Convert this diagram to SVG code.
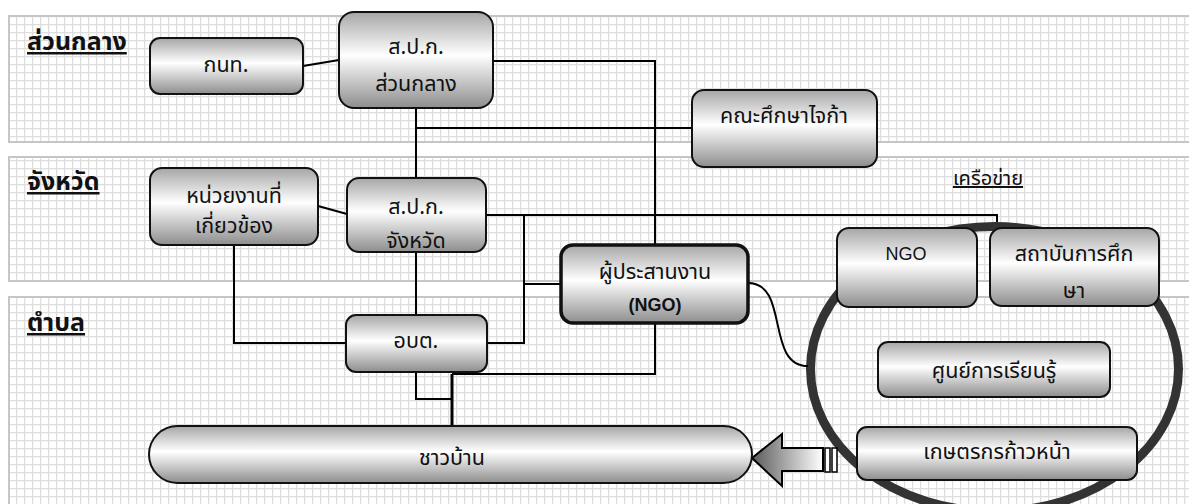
<svg xmlns="http://www.w3.org/2000/svg" width="1189" height="504" viewBox="0 0 1189 504">
<defs>
<pattern id="grid" width="8" height="8" patternUnits="userSpaceOnUse">
<rect width="8" height="8" fill="#ffffff"/>
<path d="M0 0.5H8M0.5 0V8" stroke="#dedede" stroke-width="1.6" fill="none"/>
</pattern>
<linearGradient id="box" x1="0" y1="0" x2="0" y2="1">
<stop offset="0" stop-color="#a6a6a6"/>
<stop offset="0.45" stop-color="#ffffff"/>
<stop offset="1" stop-color="#8d8d8d"/>
</linearGradient>
<linearGradient id="arr" x1="0" y1="0" x2="1" y2="0">
<stop offset="0" stop-color="#5a5a5a"/>
<stop offset="1" stop-color="#ffffff"/>
</linearGradient>
</defs>
<style>
.band{fill:url(#grid);stroke:#c6c6c6;stroke-width:2}
.node{fill:url(#box);stroke:#111;stroke-width:2}
.thick{stroke-width:3.5}
.t{font-family:'Noto Sans Thai','Noto Sans','DejaVu Sans',sans-serif;font-size:21.5px;fill:#111;text-anchor:middle}
.h{font-family:'Noto Sans Thai','Noto Sans','DejaVu Sans',sans-serif;font-size:25px;font-weight:bold;fill:#111;text-decoration:underline}
.lat{font-family:'Liberation Sans',Arial,sans-serif;font-size:18px;fill:#111;text-anchor:middle}
.c{fill:none;stroke:#000;stroke-width:2}
</style>

<g id="bands">
<rect class="band" x="9" y="16" width="1186" height="126"/>
<rect class="band" x="9" y="157" width="1186" height="124"/>
<rect class="band" x="9" y="297" width="1186" height="222"/>
</g>

<g id="labels">
<text class="h" x="27" y="50">ส่วนกลาง</text>
<text class="h" x="27" y="190">จังหวัด</text>
<text class="h" x="27" y="331">ตำบล</text>
<text class="t" x="988" y="185" style="text-decoration:underline;font-size:20px">เครือข่าย</text>
</g>

<ellipse id="network-ring" cx="994.5" cy="369" rx="184" ry="142.5" fill="none" stroke="#333" stroke-width="9"/>

<g id="connectors">
<path class="c" d="M303 66L339 60"/>
<path class="c" d="M493 61H655V245"/>
<path class="c" d="M416 108V178"/>
<path class="c" d="M416 128H692"/>
<path class="c" d="M318 206L347 214"/>
<path class="c" d="M486 215H997V222"/>
<path class="c" d="M524 215V343H487"/>
<path class="c" d="M524 284H561"/>
<path class="c" d="M416 252V315"/>
<path class="c" d="M234 245V343H346"/>
<path class="c" d="M416 372V399H452"/>
<path class="c" d="M452 374V426" style="stroke-width:3"/>
<path class="c" d="M452 374H655V323"/>
<path class="c" d="M748 283C790 283 765 366 808 366"/>
</g>

<g id="arrow">
<path d="M752 458L782 434V448H823V471H782V486Z" fill="url(#arr)" stroke="#000" stroke-width="2" stroke-linejoin="miter"/>
<rect x="825" y="448" width="5" height="24" fill="#fff" stroke="#000" stroke-width="1.5"/>
<rect x="832" y="448" width="5" height="24" fill="#fff" stroke="#000" stroke-width="1.5"/>
</g>

<g id="n-knt">
<rect class="node" x="150" y="38" width="153" height="56" rx="10"/>
<text class="t" x="226" y="72">กนท.</text>
</g>
<g id="n-alro-central">
<rect class="node" x="339" y="12" width="154" height="96" rx="15"/>
<text class="t" x="416" y="54">ส.ป.ก.</text>
<text class="t" x="416" y="91">ส่วนกลาง</text>
</g>
<g id="n-jica">
<rect class="node" x="692" y="90" width="185" height="77" rx="12"/>
<text class="t" x="784" y="123">คณะศึกษาไจก้า</text>
</g>
<g id="n-related">
<rect class="node" x="150" y="168" width="168" height="77" rx="12"/>
<text class="t" x="234" y="203">หน่วยงานที่</text>
<text class="t" x="234" y="233">เกี่ยวข้อง</text>
</g>
<g id="n-alro-province">
<rect class="node" x="347" y="178" width="139" height="74" rx="12"/>
<text class="t" x="416" y="214">ส.ป.ก.</text>
<text class="t" x="416" y="248">จังหวัด</text>
</g>
<g id="n-coordinator">
<rect class="node thick" x="561" y="245" width="187" height="78" rx="12"/>
<text class="t" x="655" y="279">ผู้ประสานงาน</text>
<text class="lat" x="655" y="311" font-weight="bold">(NGO)</text>
</g>
<g id="n-tao">
<rect class="node" x="346" y="315" width="141" height="57" rx="10"/>
<text class="t" x="416" y="348">อบต.</text>
</g>
<g id="n-ngo">
<rect class="node" x="837" y="228" width="140" height="79" rx="12"/>
<text class="lat" x="906" y="260">NGO</text>
</g>
<g id="n-edu">
<rect class="node" x="990" y="228" width="169" height="78" rx="12"/>
<text class="t" x="1074" y="261">สถาบันการศึก</text>
<text class="t" x="1074" y="298">ษา</text>
</g>
<g id="n-learning">
<rect class="node" x="878" y="342" width="232" height="55" rx="10"/>
<text class="t" x="994" y="378">ศูนย์การเรียนรู้</text>
</g>
<g id="n-farmer">
<rect class="node" x="857" y="427" width="280" height="53" rx="10"/>
<text class="t" x="997" y="459">เกษตรกรก้าวหน้า</text>
</g>
<g id="n-villagers">
<rect class="node" x="149" y="426" width="603" height="57" rx="28.5"/>
<text class="t" x="452" y="465">ชาวบ้าน</text>
</g>
</svg>
